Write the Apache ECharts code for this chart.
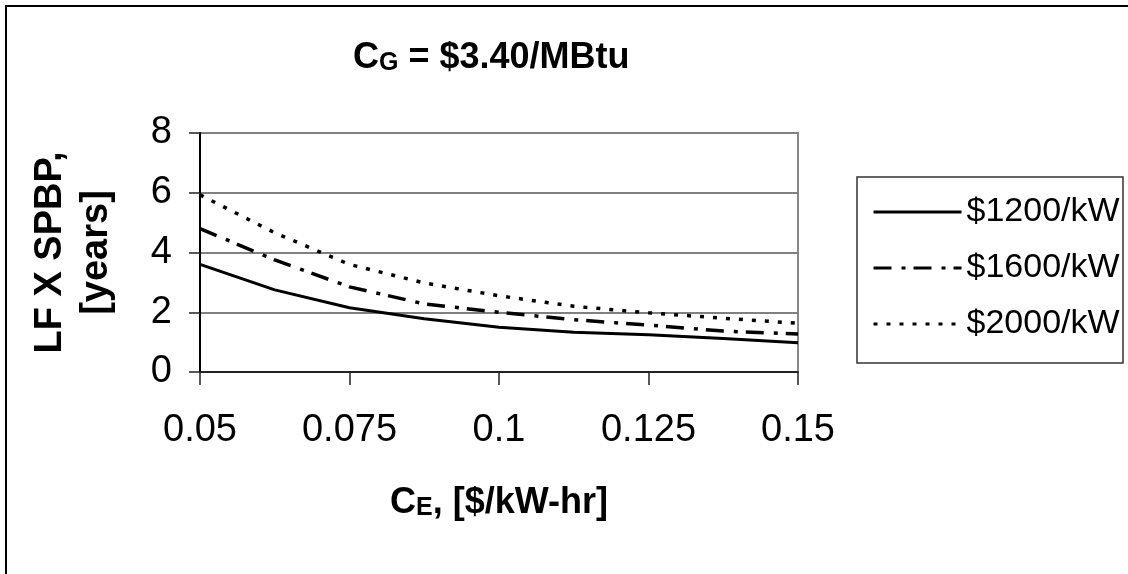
<!DOCTYPE html>
<html>
<head>
<meta charset="utf-8">
<script src="https://cdn.jsdelivr.net/npm/echarts@6/dist/echarts.min.js"></script>
<style>
html,body{margin:0;padding:0;background:#fff;}
#chart{width:1128px;height:574px;}
</style>
</head>
<body>
<div id="chart"></div>
<script>
var categories = ['0.05','0.0625','0.075','0.0875','0.1','0.1125','0.125','0.1375','0.15'];
var seriesNames = ['$1200/kW','$1600/kW','$2000/kW'];
var s1200 = [3.6, 2.75, 2.15, 1.78, 1.5, 1.33, 1.25, 1.12, 0.98];
var s1600 = [4.8, 3.75, 2.85, 2.28, 2.0, 1.75, 1.57, 1.37, 1.27];
var s2000 = [5.93, 4.66, 3.6, 2.98, 2.55, 2.2, 1.98, 1.8, 1.63];
var yTicks = [0, 2, 4, 6, 8];

var FONT = "'Liberation Sans', Arial, sans-serif";
var chart = echarts.init(document.getElementById('chart'), null, {renderer: 'canvas'});

function lineSeries(name, data, lineStyle) {
  return {
    name: name, type: 'line', data: data, symbol: 'none', smooth: false,
    lineStyle: Object.assign({color: '#000'}, lineStyle),
    itemStyle: {color: '#000'},
    emphasis: {disabled: true}, animation: false
  };
}

chart.setOption({
  animation: false,
  backgroundColor: '#fff',
  title: {
    text: '{a|C}{b|G}{a| = $3.40/MBtu}',
    left: 353, top: 36, padding: 0,
    textStyle: {
      rich: {
        a: {fontFamily: FONT, fontWeight: 'bold', fontSize: 36, color: '#000', verticalAlign: 'bottom', lineHeight: 40},
        b: {fontFamily: FONT, fontWeight: 'bold', fontSize: 25, color: '#000', verticalAlign: 'bottom', lineHeight: 36}
      }
    }
  },
  legend: {
    orient: 'vertical', left: 867, top: 190,
    itemWidth: 88, itemHeight: 28, itemGap: 22,
    itemStyle: {opacity: 0},
    lineStyle: {width: 3},
    textStyle: {fontFamily: FONT, fontSize: 34, color: '#000'},
    data: seriesNames
  },
  graphic: [
    {type: 'rect', shape: {x: 6, y: 6, width: 1400, height: 1400}, style: {fill: 'none', stroke: '#000', lineWidth: 2}, silent: true},
    {type: 'rect', shape: {x: 857, y: 177, width: 266, height: 186}, style: {fill: 'none', stroke: '#333', lineWidth: 1.5}, silent: true}
  ],
  grid: {left: 200, right: 330, top: 133, bottom: 202, show: true, borderColor: '#888', borderWidth: 2,
    backgroundColor: 'transparent', outerBoundsMode: 'none', containLabel: false},
  xAxis: {
    type: 'category', data: categories, boundaryGap: false,
    name: '{a|C}{b|E}{a|, [$/kW-hr]}', nameLocation: 'middle', nameGap: 109,
    nameTextStyle: {
      rich: {
        a: {fontFamily: FONT, fontWeight: 'bold', fontSize: 36, color: '#000', verticalAlign: 'bottom', lineHeight: 40},
        b: {fontFamily: FONT, fontWeight: 'bold', fontSize: 25, color: '#000', verticalAlign: 'bottom', lineHeight: 36}
      }
    },
    axisLine: {lineStyle: {color: '#222', width: 2}},
    axisTick: {show: true, interval: 1, length: 13, lineStyle: {color: '#222', width: 1.5}},
    axisLabel: {interval: 1, margin: 40, fontFamily: FONT, fontSize: 38, color: '#000'},
    splitLine: {show: false}
  },
  yAxis: {
    type: 'value', min: 0, max: 8, interval: 2,
    name: 'LF X SPBP,\n[years]', nameLocation: 'middle', nameRotate: 90, nameGap: 80,
    nameTextStyle: {fontFamily: FONT, fontWeight: 'bold', fontSize: 38, color: '#000', lineHeight: 46},
    axisLine: {show: true, lineStyle: {color: '#000', width: 2}},
    axisTick: {show: true, length: 11, lineStyle: {color: '#222', width: 1.5}},
    axisLabel: {margin: 28, fontFamily: FONT, fontSize: 38, color: '#000',
      customValues: yTicks},
    splitLine: {show: true, lineStyle: {color: '#808080', width: 2}}
  },
  series: [
    lineSeries(seriesNames[0], s1200, {width: 3, type: 'solid'}),
    lineSeries(seriesNames[1], s1600, {width: 3.5, type: [18, 10, 4, 8], cap: 'butt'}),
    lineSeries(seriesNames[2], s2000, {width: 3.5, type: [4, 9], cap: 'butt'})
  ]
});
</script>
</body>
</html>
